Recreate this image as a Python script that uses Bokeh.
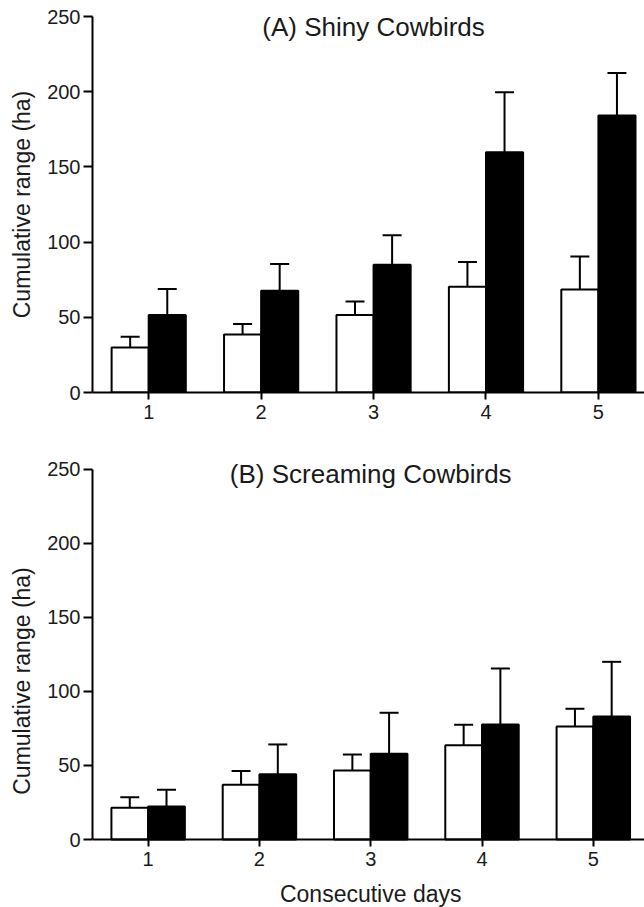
import numpy as np
from bokeh.plotting import figure
from bokeh.models import ColumnDataSource, Whisker, TeeHead, FixedTicker, Label, Range1d
from bokeh.layouts import column
from bokeh.embed import file_html
from bokeh.resources import INLINE

days = [1, 2, 3, 4, 5]
day_labels = ["1", "2", "3", "4", "5"]
y_ticks = [0, 50, 100, 150, 200, 250]

# (A) Shiny Cowbirds
a_white_mean = [30.0, 38.6, 51.5, 70.3, 68.5]
a_white_se = [7.0, 7.0, 9.0, 16.5, 22.0]
a_black_mean = [51.5, 67.7, 85.0, 159.7, 184.1]
a_black_se = [17.3, 17.7, 19.5, 40.0, 28.4]

# (B) Screaming Cowbirds
b_white_mean = [21.4, 37.0, 46.6, 63.7, 76.4]
b_white_se = [7.2, 9.2, 10.8, 13.8, 11.9]
b_black_mean = [22.3, 44.1, 57.9, 77.7, 83.1]
b_black_se = [11.3, 20.1, 27.7, 37.8, 36.9]

FONT = "Liberation Sans"
TXT = "#1a1a1a"
BW = 0.33


def make_panel(title, white_mean, white_se, black_mean, black_se, height,
               border_top, border_bottom, x_end, y_start, y_end, title_y, xlabel_y):
    p = figure(width=644, height=height, output_backend="svg", toolbar_location=None,
               x_range=Range1d(0.5, x_end), y_range=Range1d(y_start, y_end),
               min_border_left=92, min_border_right=0,
               min_border_top=border_top, min_border_bottom=border_bottom)
    p.outline_line_color = None
    p.xgrid.visible = False
    p.ygrid.visible = False
    p.background_fill_color = "white"
    p.border_fill_color = "white"

    d = np.array(days, dtype=float)
    for means, ses, fill, off in ((white_mean, white_se, "white", -BW / 2),
                                  (black_mean, black_se, "black", BW / 2)):
        m = np.array(means)
        s = np.array(ses)
        src = ColumnDataSource(dict(x=d + off, top=m, upper=m + s))
        p.vbar(x="x", top="top", width=BW, bottom=0, source=src,
               fill_color=fill, line_color="black", line_width=2)
        w = Whisker(source=src, base="x", upper="upper", lower="top",
                    dimension="height", line_color="black", line_width=2,
                    upper_head=TeeHead(size=19, line_width=2, line_color="black"),
                    lower_head=None)
        p.add_layout(w)

    p.xaxis.ticker = FixedTicker(ticks=days)
    p.xaxis.major_label_overrides = {d_: l for d_, l in zip(days, day_labels)}
    p.yaxis.ticker = FixedTicker(ticks=y_ticks)
    p.yaxis.bounds = (0, 250)
    for ax in (p.xaxis, p.yaxis):
        ax.axis_line_width = 2
        ax.axis_line_color = "black"
        ax.major_tick_line_width = 2
        ax.major_tick_line_color = "black"
        ax.minor_tick_line_color = None
        ax.major_tick_in = 0
        ax.major_label_text_font = FONT
        ax.major_label_text_font_size = "20px"
        ax.major_label_text_color = TXT
        ax.axis_label_text_font = FONT
        ax.axis_label_text_font_style = "normal"
        ax.axis_label_text_font_size = "23px"
        ax.axis_label_text_color = TXT
    p.xaxis.major_tick_out = 7
    p.yaxis.major_tick_out = 9
    p.yaxis.major_label_standoff = 3
    p.xaxis.major_label_standoff = 5
    p.yaxis.axis_label = "Cumulative range (ha)"
    p.yaxis.axis_label_standoff = 9
    if xlabel_y is not None:
        # x axis drawn at y = 0 inside the extended frame, label placed below it
        p.xaxis.fixed_location = 0
        p.add_layout(Label(x=3.0, y=xlabel_y, text="Consecutive days", text_align="center",
                           text_baseline="middle", text_font=FONT,
                           text_font_size="23px", text_color=TXT))

    p.add_layout(Label(x=3.0, y=title_y, text=title, text_align="center",
                       text_baseline="middle", text_font=FONT,
                       text_font_size="26px", text_color=TXT))
    return p


pa = make_panel("(A) Shiny Cowbirds", a_white_mean, a_white_se, a_black_mean, a_black_se,
                height=427, border_top=16, border_bottom=35, x_end=5.41, y_start=0, y_end=250,
                title_y=243, xlabel_y=None)
pb = make_panel("(B) Screaming Cowbirds", b_white_mean, b_white_se, b_black_mean, b_black_se,
                height=480, border_top=27, border_bottom=0, x_end=5.46, y_start=-45.9, y_end=260,
                title_y=247, xlabel_y=-37.0)

layout = column(pa, pb, spacing=0)
open("out.html", "w").write(file_html(layout, INLINE))
